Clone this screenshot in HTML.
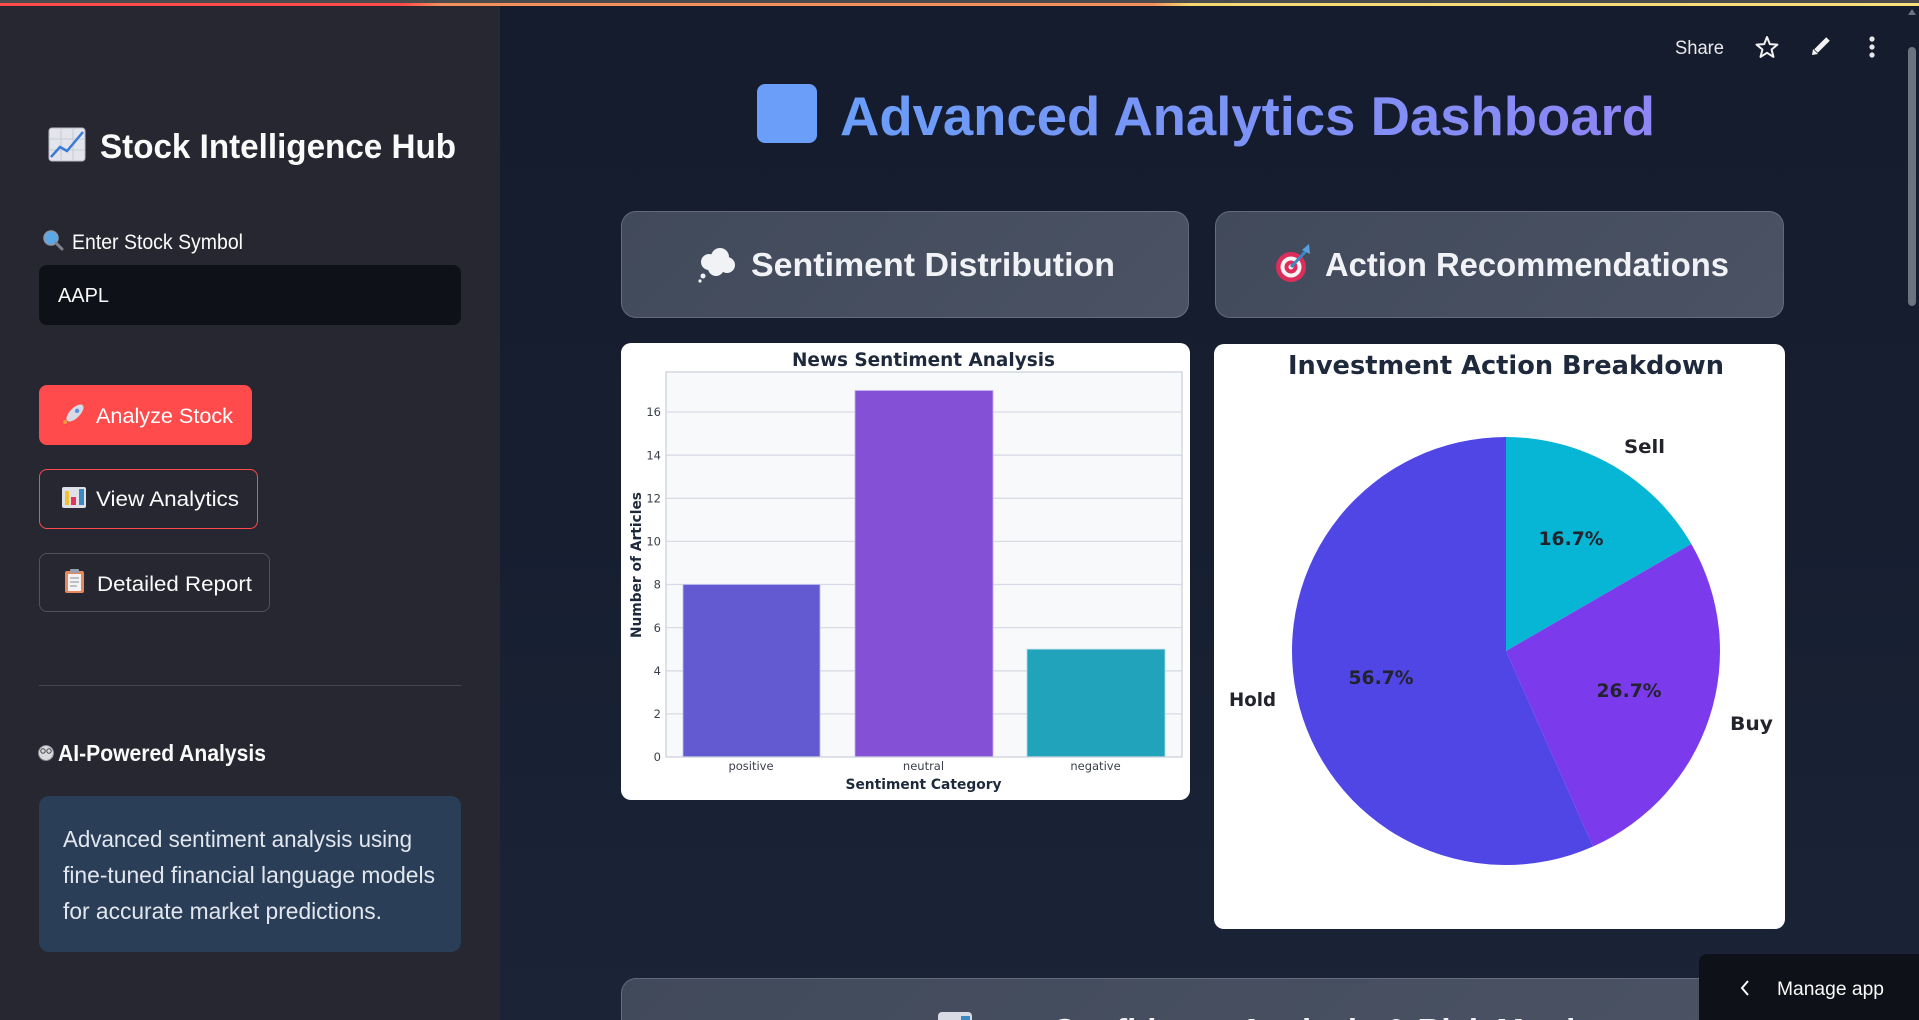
<!DOCTYPE html>
<html><head><meta charset="utf-8"><title>Advanced Analytics Dashboard</title>
<style>
*{margin:0;padding:0;box-sizing:border-box}
html,body{width:1919px;height:1020px;overflow:hidden}
body{position:relative;background:#151c2e;font-family:"Liberation Sans",sans-serif}
.a{position:absolute}
#main{left:500px;top:0;width:1419px;height:1020px;background:linear-gradient(180deg,#151c2e 0%,#161e30 50%,#1b2437 100%)}
#side{left:0;top:0;width:500px;height:1020px;background:#262730}
#topgray{left:0;top:0;width:1919px;height:3px;background:#4a4a4c}
#topline{left:0;top:3px;width:1919px;height:3px;background:linear-gradient(90deg,#ff4b4b 0%,#ff4b4b 21%,#f4905c 23%,#f4905c 60%,#f6d873 62%,#f8e07a 100%)}
.inp{left:39px;top:265px;width:422px;height:60px;border-radius:8px;background:#0e1117}
.b1{left:39px;top:385px;width:213px;height:60px;border-radius:8px;background:#ff4b4b}
.b2{left:39px;top:469px;width:219px;height:60px;border-radius:8px;border:1px solid #ff4b4b}
.b3{left:39px;top:553px;width:231px;height:59px;border-radius:8px;border:1px solid #50515a}
.hr{left:39px;top:685px;width:422px;height:1px;background:#46474f}
.info{left:39px;top:796px;width:422px;height:156px;border-radius:10px;background:#2b3e57}
.hdr{height:107px;border-radius:15px;background:linear-gradient(135deg,#414a5b,#4a5264);border:1px solid rgba(255,255,255,.17)}
.wc{background:#fff;border-radius:10px}
.scroll{left:1908px;top:47px;width:8px;height:259px;border-radius:4px;background:#6b7280}
.manage{left:1699px;top:954px;width:220px;height:66px;background:#0e1117;border-radius:8px 0 0 0}
svg{position:absolute;left:0;top:0}
</style></head><body>
<div class="a" id="main"></div>
<div class="a" id="side"></div>
<div class="a" id="topgray"></div>
<div class="a" id="topline"></div>

<div class="a inp"></div>
<div class="a b1"></div>
<div class="a b2"></div>
<div class="a b3"></div>
<div class="a hr"></div>
<div class="a info"></div>

<div class="a hdr" style="left:621px;top:211px;width:568px"></div>
<div class="a hdr" style="left:1215px;top:211px;width:569px"></div>
<div class="a wc" style="left:621px;top:343px;width:569px;height:457px"></div>
<div class="a wc" style="left:1214px;top:344px;width:571px;height:585px"></div>
<div class="a hdr" style="left:621px;top:978px;width:1163px;height:42px;border-bottom:none;border-radius:15px 15px 0 0"></div>
<div class="a scroll"></div>
<div class="a manage"></div>

<svg width="1919" height="1020" viewBox="0 0 1919 1020" xmlns="http://www.w3.org/2000/svg">
<defs>
<linearGradient id="tg" gradientUnits="userSpaceOnUse" x1="840" y1="0" x2="1655" y2="0">
<stop offset="0" stop-color="#6a9ef8"/><stop offset="1" stop-color="#8e86f5"/>
</linearGradient>
</defs>

<!-- ===== Sidebar ===== -->
<g>
<rect x="49" y="128" width="36" height="33" rx="3" fill="#e4e5ec" stroke="#b8bac4"/>
<path d="M49 139H85M49 150H85M61 128V161M73 128V161" stroke="#c9cbd4" stroke-width="1"/>
<polyline points="51,157 60,147 67,151 83,132" fill="none" stroke="#3a7bd8" stroke-width="2.5"/>
</g>
<text x="100" y="158" font-size="34" font-weight="bold" fill="#fafafa" textLength="356" lengthAdjust="spacingAndGlyphs">Stock Intelligence Hub</text>

<circle cx="51" cy="238" r="7" fill="#5aa9e6" stroke="#8e97a6" stroke-width="1.5"/>
<line x1="56" y1="243" x2="62" y2="249" stroke="#7d838f" stroke-width="3" stroke-linecap="round"/>
<text x="72" y="249" font-size="21" fill="#fafafa" textLength="171" lengthAdjust="spacingAndGlyphs">Enter Stock Symbol</text>
<text x="58" y="302" font-size="20.5" fill="#fafafa" textLength="51" lengthAdjust="spacingAndGlyphs">AAPL</text>

<g transform="rotate(-45 75 413)">
<ellipse cx="75" cy="413" rx="11" ry="5" fill="#d6dae5"/>
<circle cx="78" cy="413" r="2.2" fill="#5b8fd9"/>
<path d="M64 413 L60 409 L60 417 Z" fill="#e8455a"/>
</g>
<circle cx="65" cy="422" r="2" fill="#f59a3c"/>
<text x="96" y="423" font-size="21" fill="#ffffff" textLength="137" lengthAdjust="spacingAndGlyphs">Analyze Stock</text>

<rect x="62" y="487" width="24" height="21" rx="2" fill="#dfe1e8"/>
<rect x="65" y="491" width="4" height="14" fill="#f2c230"/>
<rect x="71" y="497" width="5" height="8" fill="#e0345b"/>
<rect x="79" y="489" width="5" height="16" fill="#3b88c3"/>
<text x="96" y="506" font-size="21" fill="#fafafa" textLength="143" lengthAdjust="spacingAndGlyphs">View Analytics</text>

<rect x="65" y="571" width="19" height="22" rx="2" fill="#e8875c"/>
<rect x="68" y="574" width="13" height="17" fill="#f3f3f5"/>
<path d="M70 578H79M70 582H79M70 586H77" stroke="#9aa0ab" stroke-width="1.2"/>
<rect x="70" y="569" width="9" height="4" rx="1" fill="#9aa0ab"/>
<text x="97" y="591" font-size="21" fill="#fafafa" textLength="155" lengthAdjust="spacingAndGlyphs">Detailed Report</text>

<circle cx="46" cy="753" r="7.5" fill="#d9d9de" stroke="#8a8c96" stroke-width="1"/>
<circle cx="43" cy="751" r="2.2" fill="none" stroke="#444" stroke-width="1"/>
<circle cx="49" cy="751" r="2.2" fill="none" stroke="#444" stroke-width="1"/>
<text x="58" y="761" font-size="23" font-weight="bold" fill="#fafafa" textLength="208" lengthAdjust="spacingAndGlyphs">AI-Powered Analysis</text>

<text x="63" y="847" font-size="23" fill="#e2e7ef" textLength="349" lengthAdjust="spacingAndGlyphs">Advanced sentiment analysis using</text>
<text x="63" y="883" font-size="23" fill="#e2e7ef" textLength="372" lengthAdjust="spacingAndGlyphs">fine-tuned financial language models</text>
<text x="63" y="919" font-size="23" fill="#e2e7ef" textLength="319" lengthAdjust="spacingAndGlyphs">for accurate market predictions.</text>

<!-- ===== Header toolbar ===== -->
<text x="1675" y="54" font-size="19" fill="#e8e8ea" textLength="49" lengthAdjust="spacingAndGlyphs">Share</text>
<polygon transform="translate(1767 48)" points="0,-11 2.82,-3.88 10.46,-3.4 4.57,1.48 6.47,8.9 0,4.8 -6.47,8.9 -4.57,1.48 -10.46,-3.4 -2.82,-3.88" fill="none" stroke="#f2f2f2" stroke-width="2" stroke-linejoin="round"/>
<line x1="1816" y1="51" x2="1828" y2="39" stroke="#f2f2f2" stroke-width="5"/>
<polygon points="1812,55 1813,49 1818,54" fill="#f2f2f2"/>
<circle cx="1872" cy="39" r="2.6" fill="#e8e8ea"/>
<circle cx="1872" cy="47" r="2.6" fill="#e8e8ea"/>
<circle cx="1872" cy="55" r="2.6" fill="#e8e8ea"/>
<polygon points="1908,15 1916,15 1912,9" fill="#6b7280"/>

<!-- ===== Title ===== -->
<rect x="757" y="84" width="60" height="59" rx="8" fill="#6a9ef8"/>
<text x="840" y="135" font-size="55" font-weight="bold" fill="url(#tg)" textLength="815" lengthAdjust="spacingAndGlyphs">Advanced Analytics Dashboard</text>

<!-- ===== Card headers ===== -->
<g fill="#f1f2f5">
<circle cx="720" cy="257" r="9"/><circle cx="709" cy="262" r="8"/><circle cx="727" cy="265" r="8"/><circle cx="716" cy="268" r="8"/>
<circle cx="703" cy="276" r="2.5"/><circle cx="700" cy="281" r="1.6"/>
</g>
<text x="751" y="276" font-size="33" font-weight="bold" fill="#f0f2f6" textLength="364" lengthAdjust="spacingAndGlyphs">Sentiment Distribution</text>

<circle cx="1291" cy="267" r="15" fill="#dd2e5b"/>
<circle cx="1291" cy="267" r="10.5" fill="#f4f4f4"/>
<circle cx="1291" cy="267" r="6.5" fill="#dd2e5b"/>
<circle cx="1291" cy="267" r="2.5" fill="#f4f4f4"/>
<line x1="1291" y1="267" x2="1306" y2="251" stroke="#3b88c3" stroke-width="3"/>
<polygon points="1302,250 1309,244 1310,254" fill="#5aa0dc"/>
<text x="1325" y="276" font-size="33" font-weight="bold" fill="#f0f2f6" textLength="404" lengthAdjust="spacingAndGlyphs">Action Recommendations</text>

<!-- bottom card (cut off) -->
<rect x="938" y="1012" width="34" height="40" rx="4" fill="#d8dbe3"/>
<rect x="961" y="1016" width="9" height="10" fill="#3b88c3"/>
<text x="1052" y="1042" font-size="33" font-weight="bold" fill="#f0f2f6">Confidence Analysis &amp; Risk Metrics</text>

<!-- ===== Bar chart ===== -->
<g font-family="'DejaVu Sans', sans-serif">
<text x="923.5" y="366" font-size="18.4" font-weight="bold" fill="#1e293b" text-anchor="middle" textLength="263" lengthAdjust="spacingAndGlyphs">News Sentiment Analysis</text>
<rect x="666" y="372" width="516" height="385" fill="#f8f9fb"/>
<g stroke="#d9dce5" stroke-width="1.3">
<line x1="666" y1="713.9" x2="1182" y2="713.9"/>
<line x1="666" y1="670.8" x2="1182" y2="670.8"/>
<line x1="666" y1="627.6" x2="1182" y2="627.6"/>
<line x1="666" y1="584.5" x2="1182" y2="584.5"/>
<line x1="666" y1="541.4" x2="1182" y2="541.4"/>
<line x1="666" y1="498.3" x2="1182" y2="498.3"/>
<line x1="666" y1="455.2" x2="1182" y2="455.2"/>
<line x1="666" y1="412" x2="1182" y2="412"/>
</g>
<rect x="683" y="584.5" width="137" height="172.5" fill="#635ad2" stroke="#b9bdf0" stroke-width="0.8"/>
<rect x="855" y="390.5" width="138" height="366.5" fill="#8350d6" stroke="#c6b3ef" stroke-width="0.8"/>
<rect x="1027" y="649.2" width="138" height="107.8" fill="#22a3bc" stroke="#a9dbe6" stroke-width="0.8"/>
<rect x="666" y="372" width="516" height="385" fill="none" stroke="#cdd1dc" stroke-width="1.3"/>
<g font-size="11.5" fill="#3a3f4b" text-anchor="end">
<text x="661" y="761">0</text>
<text x="661" y="718">2</text>
<text x="661" y="675">4</text>
<text x="661" y="632">6</text>
<text x="661" y="588.5">8</text>
<text x="661" y="545.5">10</text>
<text x="661" y="502.5">12</text>
<text x="661" y="459.5">14</text>
<text x="661" y="416">16</text>
</g>
<g font-size="11.5" fill="#3a3f4b" text-anchor="middle">
<text x="751" y="770">positive</text>
<text x="923.5" y="770">neutral</text>
<text x="1095.5" y="770">negative</text>
</g>
<text x="923.5" y="789" font-size="13.8" font-weight="bold" fill="#1e293b" text-anchor="middle" textLength="156" lengthAdjust="spacingAndGlyphs">Sentiment Category</text>
<text transform="translate(641 565) rotate(-90)" x="0" y="0" font-size="13.8" font-weight="bold" fill="#1e293b" text-anchor="middle" textLength="146" lengthAdjust="spacingAndGlyphs">Number of Articles</text>
</g>

<!-- ===== Pie chart ===== -->
<g font-family="'DejaVu Sans', sans-serif">
<text x="1506" y="374" font-size="26" font-weight="bold" fill="#1e293b" text-anchor="middle" textLength="436" lengthAdjust="spacingAndGlyphs">Investment Action Breakdown</text>
<path d="M1506 651 L1506 437 A214 214 0 0 1 1691.33 544 Z" fill="#06b6d4"/>
<path d="M1506 651 L1691.33 544 A214 214 0 0 1 1593.04 846.5 Z" fill="#7c3aed"/>
<path d="M1506 651 L1593.04 846.5 A214 214 0 1 1 1506 437 Z" fill="#4f46e5"/>
<g font-size="19" font-weight="bold" fill="#23232d">
<text x="1624" y="453" textLength="41" lengthAdjust="spacingAndGlyphs">Sell</text>
<text x="1730" y="730" textLength="43" lengthAdjust="spacingAndGlyphs">Buy</text>
<text x="1276" y="706" text-anchor="end" textLength="47" lengthAdjust="spacingAndGlyphs">Hold</text>
<text x="1571" y="545" text-anchor="middle" textLength="65" lengthAdjust="spacingAndGlyphs">16.7%</text>
<text x="1629" y="697" text-anchor="middle" textLength="65" lengthAdjust="spacingAndGlyphs">26.7%</text>
<text x="1381" y="684" text-anchor="middle" textLength="65" lengthAdjust="spacingAndGlyphs">56.7%</text>
</g>
</g>

<!-- ===== Manage app ===== -->
<polyline points="1748,981 1742,988 1748,995" fill="none" stroke="#fafafa" stroke-width="2"/>
<text x="1777" y="995" font-size="19.5" fill="#fafafa" textLength="107" lengthAdjust="spacingAndGlyphs">Manage app</text>
</svg>
</body></html>
